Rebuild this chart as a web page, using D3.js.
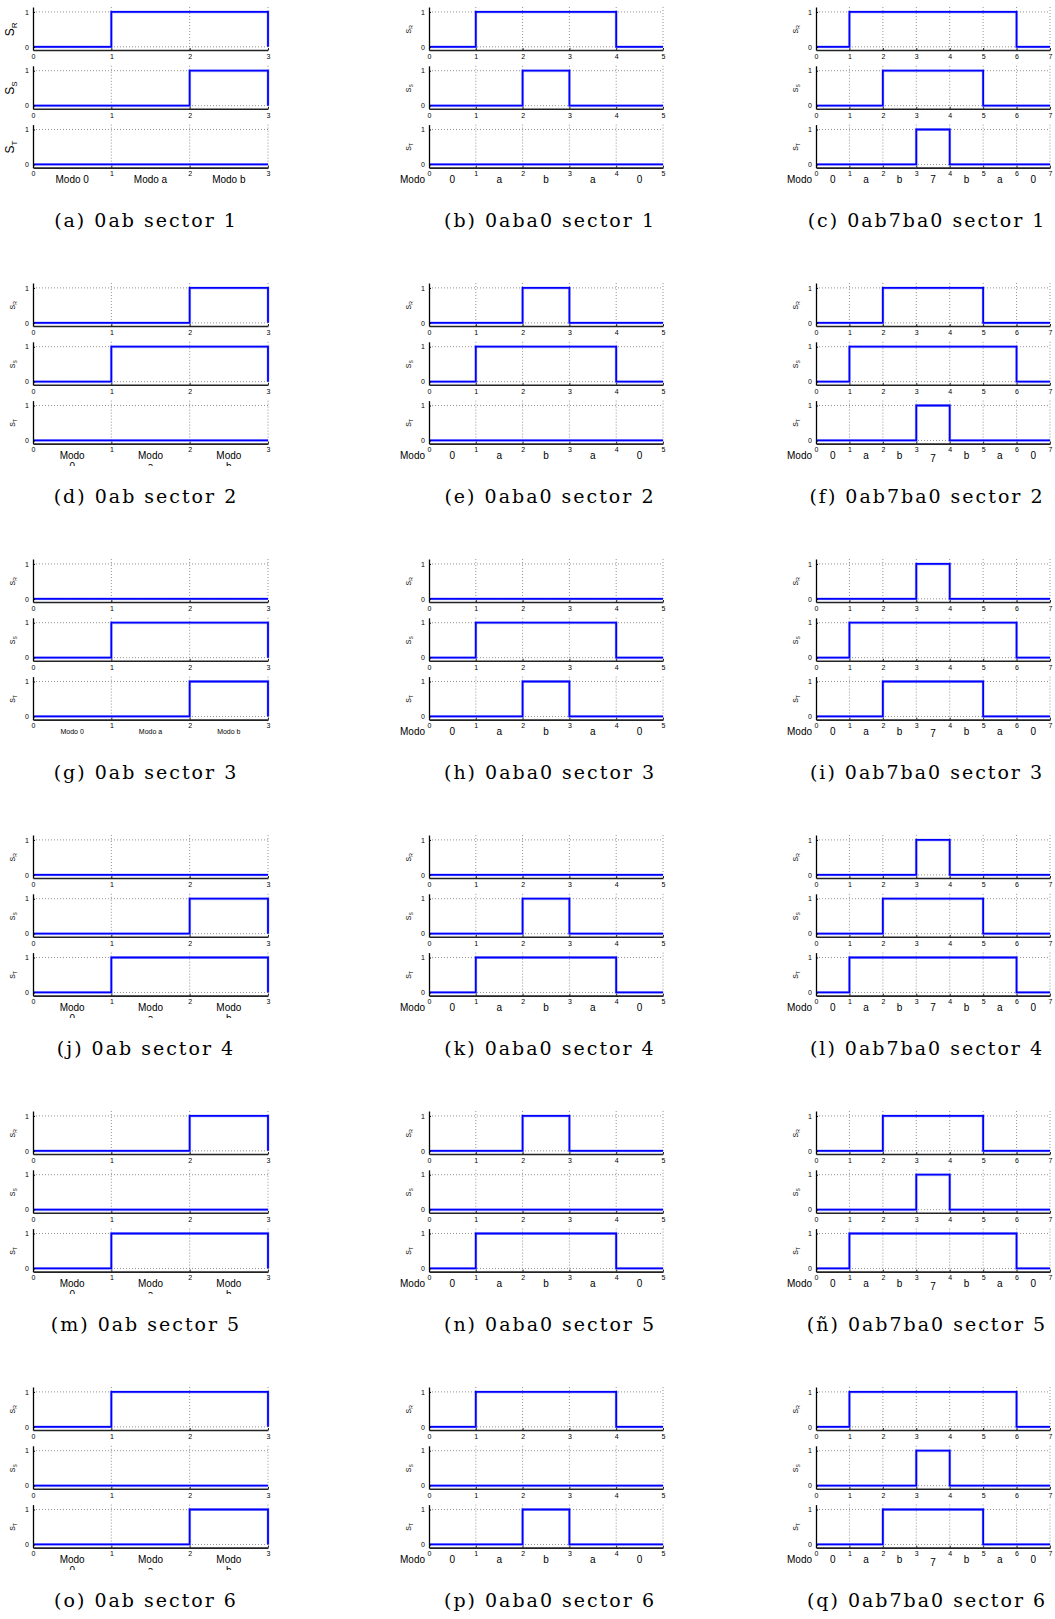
<!DOCTYPE html>
<html lang="es">
<head>
<meta charset="utf-8">
<title>Secuencias de conmutación 0ab, 0aba0, 0ab7ba0</title>
<script src="https://cdn.jsdelivr.net/npm/d3@7"></script>
<style>
  body { margin: 0; background: #fff; }
  .tick-lbl { font-family: "Liberation Sans", Arial, sans-serif; font-size: 7px; fill: #000; }
  .modo { font-family: "Liberation Sans", Arial, sans-serif; fill: #000; }
  .caption { font-family: "DejaVu Serif", serif; font-size: 19px; letter-spacing: 2px; fill: #000; }
</style>
</head>
<body>
<script>
// ---------- data ----------
var seqNames = ["0ab", "0aba0", "0ab7ba0"];
var captionLetters = [["a", "b", "c"], ["d", "e", "f"], ["g", "h", "i"],
                      ["j", "k", "l"], ["m", "n", "ñ"], ["o", "p", "q"]];
var sectors = [1, 2, 3, 4, 5, 6];
var phases = ["R", "S", "T"];

// mode names per interval
var modes0ab = ["0", "a", "b"];
var modes0aba0 = ["0", "a", "b", "a", "0"];
var modes0ab7ba0 = ["0", "a", "b", "7", "b", "a", "0"];

// switch states at x = 0..N (stairs), one row per sector
var r0ab = [[0,1,1,0], [0,0,1,0], [0,0,0,0], [0,0,0,0], [0,0,1,0], [0,1,1,0]];
var s0ab = [[0,0,1,0], [0,1,1,0], [0,1,1,0], [0,0,1,0], [0,0,0,0], [0,0,0,0]];
var t0ab = [[0,0,0,0], [0,0,0,0], [0,0,1,0], [0,1,1,0], [0,1,1,0], [0,0,1,0]];

var r0aba0 = [[0,1,1,1,0,0], [0,0,1,0,0,0], [0,0,0,0,0,0], [0,0,0,0,0,0], [0,0,1,0,0,0], [0,1,1,1,0,0]];
var s0aba0 = [[0,0,1,0,0,0], [0,1,1,1,0,0], [0,1,1,1,0,0], [0,0,1,0,0,0], [0,0,0,0,0,0], [0,0,0,0,0,0]];
var t0aba0 = [[0,0,0,0,0,0], [0,0,0,0,0,0], [0,0,1,0,0,0], [0,1,1,1,0,0], [0,1,1,1,0,0], [0,0,1,0,0,0]];

var r0ab7ba0 = [[0,1,1,1,1,1,0,0], [0,0,1,1,1,0,0,0], [0,0,0,1,0,0,0,0], [0,0,0,1,0,0,0,0], [0,0,1,1,1,0,0,0], [0,1,1,1,1,1,0,0]];
var s0ab7ba0 = [[0,0,1,1,1,0,0,0], [0,1,1,1,1,1,0,0], [0,1,1,1,1,1,0,0], [0,0,1,1,1,0,0,0], [0,0,0,1,0,0,0,0], [0,0,0,1,0,0,0,0]];
var t0ab7ba0 = [[0,0,0,1,0,0,0,0], [0,0,0,1,0,0,0,0], [0,0,1,1,1,0,0,0], [0,1,1,1,1,1,0,0], [0,1,1,1,1,1,0,0], [0,0,1,1,1,0,0,0]];

var series = [[r0ab, s0ab, t0ab], [r0aba0, s0aba0, t0aba0], [r0ab7ba0, s0ab7ba0, t0ab7ba0]];
var modes = [modes0ab, modes0aba0, modes0ab7ba0];

// ---------- layout ----------
var W = 1055, H = 1619;
var colLeft = [33, 429, 816];
var colRight = [268, 663, 1050];
var captionX = [146, 550, 927];
var rowPitch = 276;
var panelTop = 7, panelPitch = 58.8, panelH = 43;

// label style of the "Modo" row in column 1, per sector
var modo0abStyle = ["line", "wrap", "small", "wrap", "wrap", "wrap"];
// the "7" label sits a little lower in some column 3 plots
var sevenDrop = [0, 3, 2, 0, 3, 3];

var svg = d3.select("body").append("svg")
    .attr("width", W)
    .attr("height", H);

var defs = svg.append("defs");

var yScale = d3.scaleLinear()
    .domain([-0.09, 1.14])
    .range([panelH, 0]);

sectors.forEach(function(sec, r) {
  seqNames.forEach(function(seq, c) {
    var rowTop = r * rowPitch;
    var nInt = modes[c].length;
    var xScale = d3.scaleLinear()
        .domain([0, nInt])
        .range([colLeft[c], colRight[c]]);

    var fig = svg.append("g").attr("class", "subfig");

    phases.forEach(function(ph, p) {
      var top = rowTop + panelTop + p * panelPitch;
      var g = fig.append("g").attr("transform", "translate(0," + top + ")");
      var vals = series[c][p][r];

      // grid
      g.selectAll(".vgrid")
        .data(d3.range(1, nInt + 1))
        .enter().append("line")
        .attr("x1", function(d) { return xScale(d); })
        .attr("x2", function(d) { return xScale(d); })
        .attr("y1", 0).attr("y2", panelH)
        .attr("stroke", "#777").attr("stroke-width", 0.8)
        .attr("stroke-dasharray", "1,2");
      g.selectAll(".hgrid")
        .data([0, 1])
        .enter().append("line")
        .attr("x1", xScale(0)).attr("x2", xScale(nInt))
        .attr("y1", function(d) { return yScale(d); })
        .attr("y2", function(d) { return yScale(d); })
        .attr("stroke", "#777").attr("stroke-width", 0.8)
        .attr("stroke-dasharray", "1,2");

      // step line
      var line = d3.line()
          .x(function(d, i) { return xScale(i); })
          .y(function(d) { return yScale(d); })
          .curve(d3.curveStepAfter);
      g.append("path")
        .datum(vals)
        .attr("d", line)
        .attr("fill", "none")
        .attr("stroke", "#9999ff")
        .attr("stroke-width", 3)
        .attr("stroke-opacity", 0.5);
      g.append("path")
        .datum(vals)
        .attr("d", line)
        .attr("fill", "none")
        .attr("stroke", "#0000ff")
        .attr("stroke-width", 1.8);

      // axes
      var xAxis = d3.axisBottom(xScale)
          .tickValues(d3.range(0, nInt + 1))
          .tickFormat(d3.format("d"))
          .tickSizeInner(-2).tickSizeOuter(0).tickPadding(4);
      var gx = g.append("g")
        .attr("transform", "translate(0," + panelH + ")")
        .call(xAxis);
      gx.select(".domain").attr("stroke", "#222").attr("stroke-width", 1.6);
      gx.selectAll(".tick line").attr("stroke", "#222");
      gx.selectAll(".tick text").attr("class", "tick-lbl")
        .attr("font-family", null).attr("font-size", null)
        .attr("y", 4).attr("dy", "0.7em");

      var yAxis = d3.axisLeft(yScale)
          .tickValues([0, 1])
          .tickFormat(d3.format("d"))
          .tickSizeInner(-2).tickSizeOuter(0).tickPadding(4);
      var gy = g.append("g")
        .attr("transform", "translate(" + xScale(0) + ",0)")
        .call(yAxis);
      gy.select(".domain").attr("stroke", "#000").attr("stroke-width", 1.3);
      gy.selectAll(".tick line").attr("stroke", "#000");
      gy.selectAll(".tick text").attr("class", "tick-lbl")
        .attr("font-family", null).attr("font-size", null)
        .attr("x", -4);

      // y label S_x
      var big = (c === 0 && r === 0);
      var lbl = g.append("text")
        .attr("transform", "translate(" + (xScale(0) - (big ? 19 : 18)) + "," + yScale(0.5) + ") rotate(-90)")
        .attr("text-anchor", "middle")
        .attr("font-family", "Liberation Sans, Arial, sans-serif")
        .attr("font-size", big ? 12 : 7);
      lbl.append("tspan").text("S");
      lbl.append("tspan")
        .attr("font-size", big ? 8 : 5)
        .attr("dy", big ? 3 : 2)
        .text(ph);
    });

    // mode labels under the last panel
    var modoY = rowTop + 183;
    var mids = d3.range(nInt).map(function(i) { return i + 0.5; });
    if (c === 0) {
      var style = modo0abStyle[r];
      var clipId = "clip-" + r + "-" + c;
      defs.append("clipPath").attr("id", clipId)
        .append("rect")
        .attr("x", colLeft[c] - 40).attr("y", rowTop)
        .attr("width", colRight[c] - colLeft[c] + 60).attr("height", 190);
      var mg = fig.append("g").attr("clip-path", "url(#" + clipId + ")");
      var mt = mg.selectAll(".modo")
        .data(mids)
        .enter().append("text")
        .attr("class", "modo")
        .attr("text-anchor", "middle")
        .attr("x", function(d) { return xScale(d); })
        .attr("y", style === "small" ? modoY - 1 : modoY)
        .attr("font-size", style === "small" ? 7 : 10);
      if (style === "wrap") {
        mt.append("tspan").text("Modo");
        mt.append("tspan")
          .attr("x", function(d) { return xScale(d); })
          .attr("dy", 11)
          .text(function(d, i) { return modes[c][i]; });
      } else {
        mt.text(function(d, i) { return "Modo " + modes[c][i]; });
      }
    } else {
      fig.append("text")
        .attr("class", "modo")
        .attr("text-anchor", "end")
        .attr("x", xScale(0) - 4)
        .attr("y", modoY)
        .attr("font-size", 10)
        .text("Modo");
      fig.selectAll(".modo-i")
        .data(mids)
        .enter().append("text")
        .attr("class", "modo")
        .attr("text-anchor", "middle")
        .attr("x", function(d) { return xScale(d); })
        .attr("y", function(d, i) {
          return modoY + (c === 2 && modes[c][i] === "7" ? sevenDrop[r] : 0);
        })
        .attr("font-size", 10)
        .text(function(d, i) { return modes[c][i]; });
    }

    // caption
    fig.append("text")
      .attr("class", "caption")
      .attr("text-anchor", "middle")
      .attr("x", captionX[c])
      .attr("y", rowTop + 227)
      .text("(" + captionLetters[r][c] + ") " + seq + " sector " + sec);
  });
});
</script>
</body>
</html>
